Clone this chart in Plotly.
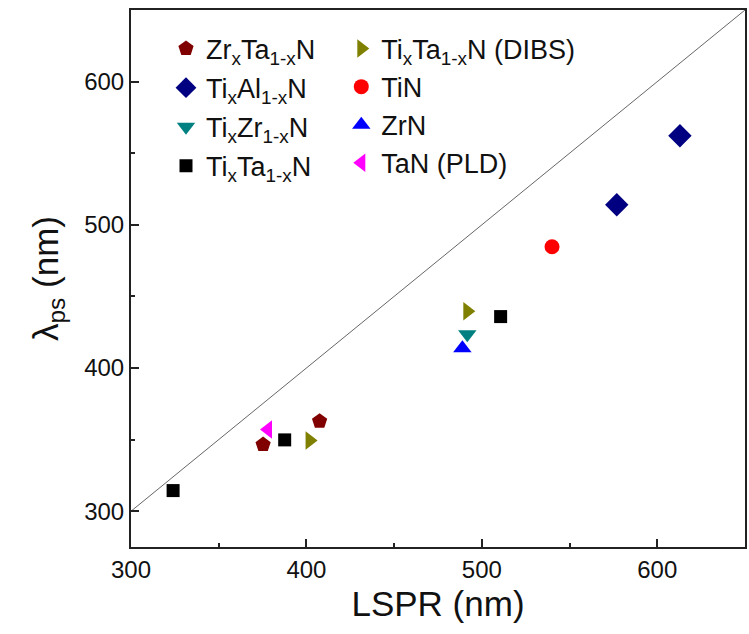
import plotly.graph_objects as go

# ---- data ----
zrta_x = [375.3, 407.5]
zrta_y = [346.5, 362.8]
tial_x = [576.9, 612.9]
tial_y = [514.0, 562.2]
tizr_x = [491.7]
tizr_y = [423.5]
tita_x = [324.0, 387.6, 510.7]
tita_y = [314.4, 349.8, 435.9]
titadibs_x = [401.8, 491.7]
titadibs_y = [349.4, 439.6]
tin_x = [540.0]
tin_y = [484.7]
zrn_x = [488.9]
zrn_y = [413.8]
tan_x = [378.1]
tan_y = [357.0]
diag = [300, 650]

FONT = "Liberation Sans, Arial, sans-serif"

fig = go.Figure()
fig.add_trace(go.Scatter(x=diag, y=diag, mode="lines",
                         line=dict(color="#666666", width=1), showlegend=False,
                         hoverinfo="skip"))

series = [
    ("Zr<sub>x</sub>Ta<sub>1-x</sub>N", zrta_x, zrta_y, "pentagon", "#800000", 16, "legend"),
    ("Ti<sub>x</sub>Al<sub>1-x</sub>N", tial_x, tial_y, "diamond", "#000080", 18, "legend"),
    ("Ti<sub>x</sub>Zr<sub>1-x</sub>N", tizr_x, tizr_y, "triangle-down", "#008080", 16, "legend"),
    ("Ti<sub>x</sub>Ta<sub>1-x</sub>N", tita_x, tita_y, "square", "#000000", 13, "legend"),
    ("Ti<sub>x</sub>Ta<sub>1-x</sub>N (DIBS)", titadibs_x, titadibs_y, "triangle-right", "#808000", 16, "legend2"),
    ("TiN", tin_x, tin_y, "circle", "#FF0000", 15, "legend2"),
    ("ZrN", zrn_x, zrn_y, "triangle-up", "#0000FF", 16, "legend2"),
    ("TaN (PLD)", tan_x, tan_y, "triangle-left", "#FF00FF", 16, "legend2"),
]
for i, (name, xs, ys, sym, col, sz, lg) in enumerate(series):
    fig.add_trace(go.Scatter(x=xs, y=ys, mode="markers", name=name,
                             marker=dict(symbol=sym, color=col, size=sz,
                                         line=dict(width=0)),
                             legend=lg, legendgroup=f"g{i}"))

axis_common = dict(showgrid=False, zeroline=False, showline=True, mirror=True,
                   linecolor="#222222", linewidth=2, ticks="inside", ticklen=8,
                   tickwidth=1.5, tickcolor="#222222",
                   tickfont=dict(family=FONT, size=24, color="#111111"),
                   minor=dict(ticks="inside", ticklen=4, tickwidth=1.5,
                              tickcolor="#222222", dtick=50))

fig.update_xaxes(range=[300, 650], dtick=100, tick0=300,
                 title=dict(text="LSPR (nm)", font=dict(family=FONT, size=35, color="#111111"),
                            standoff=10),
                 **axis_common)
fig.update_yaxes(range=[275, 650], dtick=100, tick0=300,
                 title=dict(text="λ<sub>ps</sub> (nm)", font=dict(family=FONT, size=35, color="#111111"),
                            standoff=15),
                 **axis_common)

legend_common = dict(font=dict(family=FONT, size=27, color="#111111"),
                     bgcolor="rgba(0,0,0,0)", yanchor="top", xanchor="left",
                     itemsizing="trace")
fig.update_layout(
    width=749, height=634,
    margin=dict(l=131, r=2, t=10, b=87),
    plot_bgcolor="white", paper_bgcolor="white",
    legend=dict(x=0.057, y=0.973, tracegroupgap=1, **legend_common),
    legend2=dict(x=0.3425, y=0.973, tracegroupgap=0, **legend_common),
)

fig.write_html("out.html")
